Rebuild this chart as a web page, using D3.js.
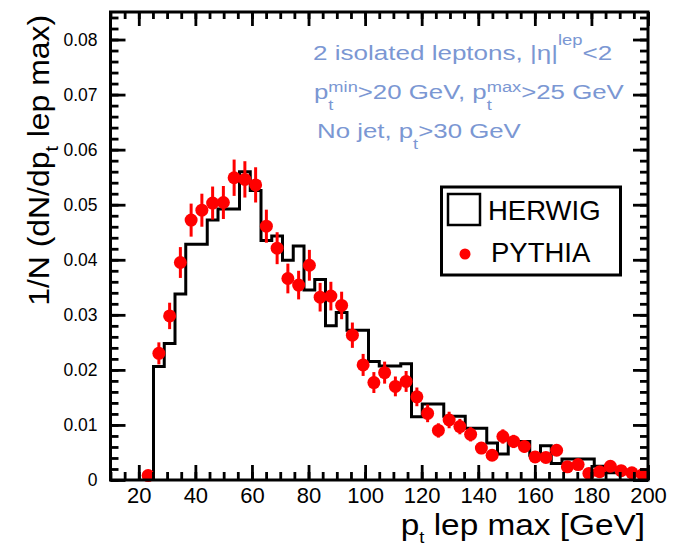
<!DOCTYPE html>
<html>
<head>
<meta charset="utf-8">
<script src="https://cdn.jsdelivr.net/npm/d3@7"></script>
<style>
  body { margin: 0; background: #fff; }
  svg { display: block; }
  text { font-family: "Liberation Sans", Arial, Helvetica, sans-serif; white-space: pre; }
</style>
</head>
<body>
<svg id="chart" width="678" height="547"></svg>
<script>
// HERWIG histogram: bin edges (GeV) and bin contents
const herwigEdges = [25.2, 29.0, 32.8, 36.6, 40.4, 44.2, 48.0, 51.8, 55.6, 59.4,
  63.2, 67.0, 70.8, 74.6, 78.4, 82.2, 86.0, 89.8, 93.6, 97.4,
  101.2, 105.0, 108.8, 112.6, 116.4, 120.2, 124.0, 127.8, 131.6, 135.4,
  139.2, 143.0, 146.8, 150.6, 154.4, 158.2, 162.0, 165.8, 169.6, 173.4,
  177.2, 181.0, 184.8, 188.6, 192.4, 196.2, 200.0];
const herwigValues = [0.0206, 0.0248, 0.0338, 0.0428, 0.0428, 0.0472, 0.0492, 0.0492, 0.0560, 0.0526,
  0.0435, 0.0443, 0.0399, 0.0425, 0.0345, 0.0364, 0.0280, 0.0304, 0.0272, 0.0272,
  0.0215, 0.0207, 0.0207, 0.0211, 0.0115, 0.0138, 0.0138, 0.0116, 0.0116, 0.0094,
  0.0094, 0.0067, 0.0047, 0.0070, 0.0070, 0.0045, 0.0062, 0.0030, 0.0038, 0.0038,
  0.0038, 0.0025, 0.0013, 0.0013, 0.0013, 0.0013];

// PYTHIA points: bin centres (GeV), values and statistical errors
const pythiaPt = [23.3, 27.1, 30.9, 34.7, 38.5, 42.3, 46.1, 49.9, 53.7, 57.5,
  61.3, 65.1, 68.9, 72.7, 76.5, 80.3, 84.1, 87.9, 91.7, 95.5,
  99.3, 103.1, 106.9, 110.7, 114.5, 118.3, 122.1, 125.9, 129.7, 133.5,
  137.3, 141.1, 144.9, 148.7, 152.5, 156.3, 160.1, 163.9, 167.7, 171.5,
  175.3, 179.1, 182.9, 186.7, 190.5, 194.3, 198.1];
const pythiaValues = [0.0008, 0.0230, 0.0298, 0.0395, 0.0472, 0.0490, 0.0503, 0.0504, 0.0549, 0.0546,
  0.0536, 0.0461, 0.0421, 0.0366, 0.0354, 0.0390, 0.0332, 0.0334, 0.0317, 0.0263,
  0.0209, 0.0177, 0.0195, 0.0170, 0.0179, 0.0151, 0.0121, 0.0090, 0.0109, 0.0097,
  0.0083, 0.0058, 0.0045, 0.0079, 0.0070, 0.0061, 0.0042, 0.0041, 0.0054, 0.0024,
  0.0028, 0.0012, 0.0015, 0.0025, 0.0017, 0.0013, 0.0010];
const pythiaErrors = [0.0005, 0.0020, 0.0024, 0.0028, 0.0030, 0.0030, 0.0030, 0.0030, 0.0033, 0.0033,
  0.0032, 0.0030, 0.0029, 0.0027, 0.0026, 0.0028, 0.0026, 0.0026, 0.0025, 0.0023,
  0.0020, 0.0019, 0.0020, 0.0018, 0.0019, 0.0017, 0.0016, 0.0013, 0.0015, 0.0014,
  0.0013, 0.0011, 0.0010, 0.0013, 0.0012, 0.0011, 0.0009, 0.0009, 0.0010, 0.0007,
  0.0008, 0.0005, 0.0006, 0.0007, 0.0006, 0.0005, 0.0005];

// Axis ticks
const xMajorTicks = [20, 40, 60, 80, 100, 120, 140, 160, 180, 200];
const xMinorTicks = d3.range(10, 200.1, 5);
const yMajorTicks = [0, 0.01, 0.02, 0.03, 0.04, 0.05, 0.06, 0.07, 0.08];
const yMinorTicks = d3.range(0, 0.0851, 0.002);

const svg = d3.select("#chart");
const x = d3.scaleLinear().domain([10, 200]).range([110.5, 648]);
const y = d3.scaleLinear().domain([0, 0.085]).range([480, 12]);
const [x0, x1] = x.range();
const [yb, yt] = y.range();

const annotColor = "#7b97d3";

// rich text: sequential segments with optional stacked sub/superscripts
function richText(parent, opts, parts) {
  const g = parent.append("g")
    .attr("transform", `translate(${opts.x},${opts.y}) ${opts.rotate ? "rotate(" + opts.rotate + ")" : ""} scale(${opts.sx || 1},1)`);
  let cx = 0, prevStart = 0, prevEnd = 0;
  parts.forEach(p => {
    const start = p.stack ? prevStart : cx;
    const t = g.append("text")
      .attr("x", start).attr("y", p.dy || 0)
      .attr("font-size", p.size || opts.size)
      .attr("fill", opts.color || "#000")
      .text(p.t);
    const w = t.node().getComputedTextLength();
    const end = start + w;
    if (p.stack) { cx = Math.max(prevEnd, end); }
    else { cx = end; prevStart = start; prevEnd = end; }
  });
  if (opts.anchor === "end") {
    g.selectAll("text").attr("x", function () { return +this.getAttribute("x") - cx; });
  }
  return g;
}

// HERWIG step histogram
const histPts = [[herwigEdges[0], 0]];
herwigValues.forEach((v, i) => {
  histPts.push([herwigEdges[i], v]);
  histPts.push([herwigEdges[i + 1], v]);
});
histPts.push([herwigEdges[herwigEdges.length - 1], 0]);
svg.append("path")
  .attr("d", d3.line().x(d => x(d[0])).y(d => y(d[1]))(histPts))
  .attr("fill", "none").attr("stroke", "#000").attr("stroke-width", 3)
  .attr("stroke-linejoin", "miter");

// PYTHIA points with error bars
const pts = svg.append("g");
pythiaPt.forEach((p, i) => {
  const v = pythiaValues[i], e = pythiaErrors[i];
  pts.append("line")
    .attr("x1", x(p)).attr("x2", x(p))
    .attr("y1", y(Math.max(0, v - e))).attr("y2", y(v + e))
    .attr("stroke", "#ff0000").attr("stroke-width", 3);
  pts.append("circle")
    .attr("cx", x(p)).attr("cy", y(v)).attr("r", 6.5)
    .attr("fill", "#ff0000");
});

// Axes (ticks pointing inward on all four sides)
function styleAxis(g) {
  g.select(".domain").remove();
  g.selectAll(".tick line").attr("stroke", "#000").attr("stroke-width", 2.8);
}
svg.append("g").attr("transform", `translate(0,${yb})`)
  .call(d3.axisBottom(x).tickValues(xMinorTicks).tickSize(-8).tickFormat(""))
  .call(styleAxis);
svg.append("g").attr("transform", `translate(0,${yb})`)
  .call(d3.axisBottom(x).tickValues(xMajorTicks).tickSize(-15).tickPadding(7).tickFormat(d3.format("d")))
  .call(styleAxis)
  .call(g => g.selectAll("text").attr("font-size", 22).attr("fill", "#000"));
svg.append("g").attr("transform", `translate(0,${yt})`)
  .call(d3.axisTop(x).tickValues(xMinorTicks).tickSize(-7).tickFormat(""))
  .call(styleAxis);
svg.append("g").attr("transform", `translate(0,${yt})`)
  .call(d3.axisTop(x).tickValues(xMajorTicks).tickSize(-14).tickFormat(""))
  .call(styleAxis);
svg.append("g").attr("transform", `translate(${x0},0)`)
  .call(d3.axisLeft(y).tickValues(yMinorTicks).tickSize(-8).tickFormat(""))
  .call(styleAxis);
svg.append("g").attr("transform", `translate(${x0},0)`)
  .call(d3.axisLeft(y).tickValues(yMajorTicks).tickSize(-15).tickPadding(13)
    .tickFormat(d => d === 0 ? "0" : d.toFixed(2)))
  .call(styleAxis)
  .call(g => g.selectAll("text").attr("font-size", 17.5).attr("fill", "#000"));
svg.append("g").attr("transform", `translate(${x1},0)`)
  .call(d3.axisRight(y).tickValues(yMinorTicks).tickSize(-8).tickFormat(""))
  .call(styleAxis);
svg.append("g").attr("transform", `translate(${x1},0)`)
  .call(d3.axisRight(y).tickValues(yMajorTicks).tickSize(-15).tickFormat(""))
  .call(styleAxis);

// Frame
svg.append("rect")
  .attr("x", x0).attr("y", yt).attr("width", x1 - x0).attr("height", yb - yt)
  .attr("fill", "none").attr("stroke", "#000").attr("stroke-width", 3);

// Axis titles
richText(svg, { x: 645, y: 535, size: 29, sx: 1.15, anchor: "end" }, [
  { t: "p" }, { t: "t", size: 16, dy: 8 }, { t: " lep max [GeV]" }
]);
richText(svg, { x: 49, y: 15, size: 29, sx: 1.1, rotate: -90, anchor: "end" }, [
  { t: "1/N (dN/dp" }, { t: "t", size: 18, dy: 9 }, { t: " lep max)" }
]);

// Selection annotations
richText(svg, { x: 313, y: 59.5, size: 20.5, sx: 1.27, color: annotColor }, [
  { t: "2 isolated leptons, |η|" }, { t: "lep", size: 14.5, dy: -15 }, { t: "<2" }
]);
richText(svg, { x: 314, y: 98.5, size: 20.5, sx: 1.26, color: annotColor }, [
  { t: "p" }, { t: "t", size: 14.5, dy: 11 }, { t: "min", size: 14.5, dy: -7, stack: true },
  { t: ">20 GeV, p" }, { t: "t", size: 14.5, dy: 11 }, { t: "max", size: 14.5, dy: -7, stack: true },
  { t: ">25 GeV" }
]);
richText(svg, { x: 317, y: 137.5, size: 20.5, sx: 1.26, color: annotColor }, [
  { t: "No jet, p" }, { t: "t", size: 14.5, dy: 11 }, { t: ">30 GeV" }
]);

// Legend
const lg = svg.append("g");
lg.append("rect").attr("x", 441.5).attr("y", 187).attr("width", 179).attr("height", 88)
  .attr("fill", "#fff").attr("stroke", "#000").attr("stroke-width", 3);
lg.append("rect").attr("x", 448).attr("y", 194).attr("width", 32).attr("height", 31)
  .attr("fill", "none").attr("stroke", "#000").attr("stroke-width", 2.5);
lg.append("text").attr("x", 488).attr("y", 220).attr("font-size", 27.5).text("HERWIG");
lg.append("circle").attr("cx", 465).attr("cy", 254).attr("r", 5.5).attr("fill", "#ff0000");
lg.append("text").attr("x", 491).attr("y", 262).attr("font-size", 27.5).text("PYTHIA");
</script>
</body>
</html>
